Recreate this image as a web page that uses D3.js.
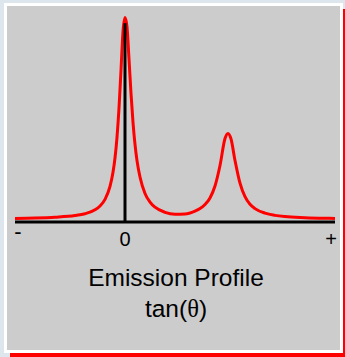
<!DOCTYPE html>
<html>
<head>
<meta charset="utf-8">
<script src="https://cdn.jsdelivr.net/npm/d3@7"></script>
<style>
  html, body { margin: 0; padding: 0; }
  body { width: 345px; height: 357px; background: #dde5ed; position: relative; overflow: hidden; }
  #panel {
    position: absolute; left: 4px; top: 3px;
    width: 333px; height: 344px;
    border: 3px solid #fff;
    background: #cccccc;
    box-shadow: 6px 6px 0 #ff0000;
  }
  #chart { position: absolute; left: 0; top: 0; }
</style>
</head>
<body>
<div id="panel"></div>
<div id="chart"></div>
<script>
// tan(theta) positions and emission intensity
const tanTheta = [-1.1, -0.9, -0.7, -0.5, -0.4, -0.3, -0.25, -0.2, -0.15, -0.12, -0.1, -0.08, -0.06, -0.04, -0.02,
  0, 0.02, 0.04, 0.06, 0.08, 0.1, 0.12, 0.15, 0.2, 0.25, 0.3, 0.4, 0.5, 0.6, 0.7, 0.75, 0.8, 0.85, 0.9, 0.95,
  1.0, 1.03, 1.06, 1.1, 1.15, 1.2, 1.25, 1.3, 1.4, 1.5, 1.6, 1.8, 2.0, 2.1];
const intensity = [0.010, 0.012, 0.016, 0.024, 0.033, 0.052, 0.071, 0.103, 0.166, 0.235, 0.305, 0.406, 0.548, 0.733, 0.922,
  0.99, 0.944, 0.788, 0.620, 0.479, 0.371, 0.292, 0.212, 0.132, 0.090, 0.065, 0.040, 0.031, 0.032, 0.046, 0.058, 0.078, 0.110, 0.168, 0.268,
  0.400, 0.425, 0.398, 0.293, 0.182, 0.116, 0.079, 0.058, 0.036, 0.025, 0.019, 0.014, 0.011, 0.010];

// tick labels along the tan(theta) axis
const tickValues = [-1.07, 0, 2.06];
const tickLabels = ['-', '0', '+'];
const titleLines = ['Emission Profile', 'tan(θ)'];

const width = 345, height = 357;

const svg = d3.select('#chart').append('svg')
    .attr('width', width)
    .attr('height', height);

const x = d3.scaleLinear().domain([-1.1, 2.1]).range([15, 335]);
const y = d3.scaleLinear().domain([0, 1]).range([222, 17]);

const points = tanTheta.map((t, i) => ({ t: t, v: intensity[i] }));

// baseline
svg.append('line')
    .attr('x1', x(-1.1)).attr('x2', x(2.1))
    .attr('y1', y(0)).attr('y2', y(0))
    .attr('stroke', '#000').attr('stroke-width', 3);

// emission curve
const line = d3.line()
    .x(d => x(d.t))
    .y(d => y(d.v) - 1.5)
    .curve(d3.curveMonotoneX);

svg.append('path')
    .datum(points)
    .attr('fill', 'none')
    .attr('stroke', '#ff0000')
    .attr('stroke-width', 3)
    .attr('stroke-linejoin', 'round')
    .attr('d', line);

// vertical axis at tan(theta) = 0
svg.append('line')
    .attr('x1', x(0)).attr('x2', x(0))
    .attr('y1', y(0)).attr('y2', y(0.97))
    .attr('stroke', '#000').attr('stroke-width', 3);

// tick labels
svg.selectAll('.tick')
    .data(tickValues)
    .enter().append('text')
    .attr('class', 'tick')
    .attr('x', d => x(d))
    .attr('y', (d, i) => i === 0 ? 239 : 246)
    .attr('text-anchor', 'middle')
    .attr('font-family', '"Liberation Sans", Arial, sans-serif')
    .attr('font-size', (d, i) => i === 0 ? '22px' : '20px')
    .attr('fill', '#000')
    .text((d, i) => tickLabels[i]);

// title
const title = svg.append('text')
    .attr('text-anchor', 'middle')
    .attr('font-family', '"Liberation Sans", Arial, sans-serif')
    .attr('font-size', '24.5px')
    .attr('fill', '#000');

title.append('tspan')
    .attr('x', 176).attr('y', 286)
    .text(titleLines[0]);

const second = title.append('tspan')
    .attr('x', 176).attr('y', 317);
second.append('tspan').text('tan(');
second.append('tspan')
    .attr('font-family', '"Liberation Serif", "Times New Roman", serif')
    .text('θ');
second.append('tspan').text(')');
</script>
</body>
</html>
